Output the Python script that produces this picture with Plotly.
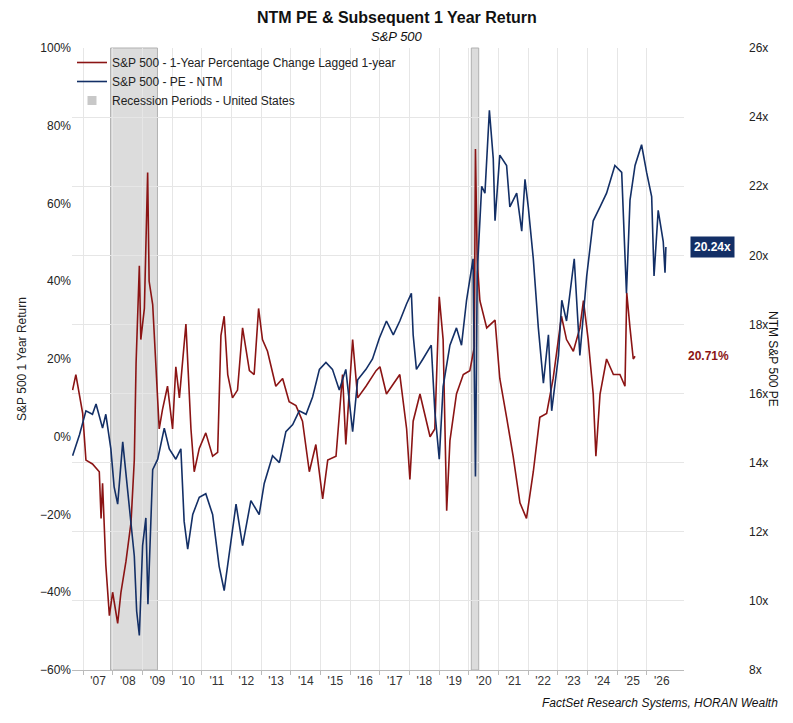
import plotly.graph_objects as go

# 1-year return (lagged), % — (decimal year, value)
ret_t = [2006.64,2006.75,2006.98,2007.09,2007.31,2007.54,2007.6,2007.65,2007.76,2007.88,2007.99,2008.16,2008.27,2008.44,2008.61,2008.72,2008.78,2008.89,2008.94,2009.06,2009.17,2009.22,2009.34,2009.45,2009.56,2009.67,2009.84,2010.01,2010.12,2010.24,2010.46,2010.63,2010.74,2010.91,2011.13,2011.36,2011.53,2011.64,2011.75,2011.87,2012.03,2012.2,2012.37,2012.6,2012.76,2012.91,2013.04,2013.21,2013.49,2013.72,2013.94,2014.17,2014.39,2014.62,2014.84,2015.07,2015.24,2015.52,2015.74,2015.85,2016.08,2016.25,2016.53,2016.87,
         2017.0,2017.22,2017.67,2017.9,2018.01,2018.12,2018.35,2018.69,2018.85,2019.0,2019.13,2019.25,2019.36,2019.58,2019.81,2020.03,2020.18,2020.22,2020.28,2020.37,2020.6,2020.88,2021.04,2021.27,2021.49,2021.72,2021.94,2022.17,2022.39,2022.62,2022.84,2023.12,2023.29,2023.52,2023.74,2023.86,2024.02,2024.19,2024.28,2024.42,2024.64,2024.87,2025.09,2025.26,2025.32,2025.43,2025.54,2025.6]
ret_v = [12,16,6,-6,-7,-9,-21,-12,-33,-46,-40,-48,-40,-32,-22,-6,19,44,25,33,68,40,34,18,2,7,13,2,18,10,29,2,-9,-3,1,-5,-4,26,31,16,10,12,28,17,16,33,25,22,13,15,9,8,4,-9,-2,-16,-6,-5,16,-2,25,10,13,17,
         18,11,16,2,-11,4,11,0,2,36,25,-19,-1,11,16,17,23,74,45,35,28,30,15,5,-5,-17,-21,-9,5,6,15,31,25,22,28,35,25,11,-5,11,20,16,16,13,37,28,20,20.71]

# NTM PE, x
pe_t = [2006.64,2006.87,2007.09,2007.31,2007.43,2007.65,2007.76,2007.93,2008.04,2008.16,2008.33,2008.55,2008.72,2008.8,2008.89,2009.0,2009.11,2009.18,2009.34,2009.51,2009.62,2009.73,2009.9,2010.12,2010.29,2010.4,2010.52,2010.69,2010.91,2011.13,2011.36,2011.58,2011.75,2011.92,2012.15,2012.37,2012.65,2012.93,2013.1,2013.38,2013.61,2013.83,2014.06,2014.28,2014.51,2014.73,2014.96,2015.18,2015.4,2015.63,2015.85,2016.08,2016.25,2016.53,2016.75,2016.98,
        2017.22,2017.45,2017.67,2017.9,2018.06,2018.12,2018.23,2018.45,2018.73,2018.85,2019.0,2019.13,2019.36,2019.58,2019.75,2019.92,2020.14,2020.22,2020.28,2020.43,2020.54,2020.69,2020.82,2020.88,2021.04,2021.27,2021.38,2021.61,2021.78,2021.89,2022.0,2022.17,2022.34,2022.51,2022.68,2022.79,2023.02,2023.13,2023.29,2023.55,2023.74,2023.97,2024.19,2024.42,2024.64,2024.92,2025.15,2025.31,2025.43,2025.6,2025.82,2025.99,2026.16,2026.24,2026.38,2026.55,2026.61,2026.64]
pe_v = [14.2,14.8,15.5,15.4,15.7,15.0,15.4,14.4,13.3,12.8,14.6,12.8,11.3,9.7,9.0,11.6,12.4,9.9,13.8,14.1,14.6,15.0,14.4,14.1,14.4,12.3,11.5,12.5,13.0,13.1,12.5,11.0,10.3,11.4,12.8,11.6,12.9,12.5,13.4,14.2,14.0,14.9,15.1,15.5,15.4,15.9,16.7,16.9,16.7,16.1,16.7,14.9,16.4,16.7,17.0,17.6,
        18.1,17.7,18.1,18.6,18.9,17.7,16.7,17.0,17.4,15.5,14.1,16.2,17.4,17.9,17.4,18.7,19.9,13.6,19.5,22.0,21.8,24.2,22.8,21.0,22.9,22.6,21.4,21.8,20.7,22.2,21.4,19.9,17.9,16.3,17.7,15.5,17.1,18.7,18.1,19.9,17.1,19.4,21.0,21.4,21.8,22.6,22.4,18.9,21.6,22.6,23.2,22.4,21.7,19.4,21.3,20.4,19.5,20.24]

recessions = [(2007.92, 2009.5), (2020.08, 2020.33)]
years = list(range(2007, 2027))
year_labels = ["'%02d" % (y % 100) for y in years]

RED = "#8b1414"
NAVY = "#132f66"
FONT = "Liberation Sans, Arial, sans-serif"

fig = go.Figure()
for a, b in recessions:
    fig.add_vrect(x0=a, x1=b, fillcolor="#dcdcdc", line=dict(color="#b0b0b0", width=1), layer="below")

fig.add_trace(go.Scatter(x=ret_t, y=ret_v, mode="lines", line=dict(color=RED, width=1.6),
                         name="S&P 500 - 1-Year Percentage Change Lagged 1-year"))
fig.add_trace(go.Scatter(x=pe_t, y=pe_v, mode="lines", line=dict(color=NAVY, width=1.6),
                         name="S&P 500 - PE - NTM", yaxis="y2"))
fig.add_trace(go.Scatter(x=[None], y=[None], mode="markers", marker=dict(symbol="square", color="#c8c8c8", size=9),
                         name="Recession Periods - United States"))

fig.update_layout(
    width=793, height=723, margin=dict(l=64, r=117, t=40, b=61, autoexpand=False),
    paper_bgcolor="white", plot_bgcolor="white",
    font=dict(family=FONT, size=12, color="#222"),
    showlegend=True,
    legend=dict(x=0.0, y=1.0, xanchor="left", yanchor="top", bgcolor="rgba(255,255,255,0)",
                font=dict(size=12), tracegroupgap=0, itemwidth=30),
    xaxis=dict(range=[2006.62, 2027.25], tickvals=[y + 0.5 for y in years], ticktext=year_labels,
               showgrid=False, ticks="", tickfont=dict(size=12, color="#333", family=FONT),
               showline=True, linecolor="#bbb", automargin=False,
               minor=dict(tickvals=years, showgrid=True, gridcolor="#e6e6e6", ticks="outside", ticklen=4, tickcolor="#bbb")),
    yaxis=dict(range=[-60, 100], dtick=20, ticksuffix="%", showgrid=False, zeroline=False, automargin=False,
               title=dict(text="S&P 500 1 Year Return", font=dict(size=12), standoff=10),
               tickfont=dict(size=12)),
    yaxis2=dict(range=[8, 26], dtick=2, ticksuffix="x", overlaying="y", side="right", automargin=False,
                ticklabelstandoff=64,
                showgrid=True, gridcolor="#e6e6e6", zeroline=False, tickfont=dict(size=12)),
)

fig.add_annotation(text="<b>NTM PE & Subsequent 1 Year Return</b>", xref="paper", yref="paper",
                   x=0.531, y=1.0, yshift=41, showarrow=False, font=dict(size=16, color="#111"))
fig.add_annotation(text="<i>S&P 500</i>", xref="paper", yref="paper", x=0.531, y=1.0, yshift=21,
                   showarrow=False, font=dict(size=13, color="#111"))
fig.add_annotation(text="<i>FactSet Research Systems, HORAN Wealth</i>", xref="paper", yref="paper",
                   x=1.0, xshift=96, y=0, yshift=-42, xanchor="right", showarrow=False, font=dict(size=12, color="#111"))
fig.add_annotation(text="NTM S&P 500 PE", xref="paper", yref="paper", x=1.0, xshift=98, y=0.5,
                   textangle=90, showarrow=False, font=dict(size=12, color="#111"))
fig.add_annotation(text="<b>20.24x</b>", x=2027.25, y=pe_v[-1], yref="y2", xanchor="left", xshift=6,
                   showarrow=False, bgcolor=NAVY, font=dict(size=12, color="white"), borderpad=3)
fig.add_annotation(text="<b>20.71%</b>", x=2027.25, y=ret_v[-1], yref="y", xanchor="left", xshift=2,
                   showarrow=False, font=dict(size=12, color=RED))

fig.write_html("out.html")
